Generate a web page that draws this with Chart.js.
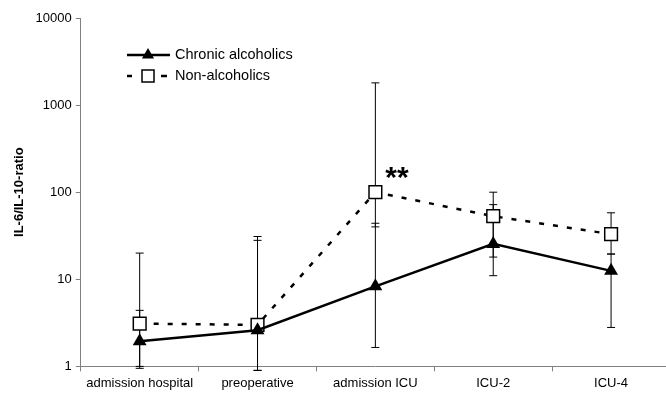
<!DOCTYPE html>
<html>
<head>
<meta charset="utf-8">
<script src="https://cdn.jsdelivr.net/npm/chart.js@4.4.0/dist/chart.umd.min.js"></script>
<style>
  html, body { margin: 0; padding: 0; background: #fff; overflow: hidden; }
  #wrap { position: relative; width: 670px; height: 393px; }
</style>
</head>
<body>
<div id="wrap"><canvas id="c"></canvas></div>
<script>
const categories = ['admission hospital', 'preoperative', 'admission ICU', 'ICU-2', 'ICU-4'];
const chronicLabel = 'Chronic alcoholics';
const chronic   = [1.95, 2.6, 8.3, 25.5, 12.5];
const chronicHi = [4.4, 28, 44, 72, 19.5];
const chronicLo = [0.95, 0.9, 1.65, 11, 2.8];
const nonAlcLabel = 'Non-alcoholics';
const nonAlc    = [3.1, 3.0, 100, 53, 33];
const nonAlcHi  = [20, 31, 1800, 100, 58];
const nonAlcLo  = [1.0, 0.9, 40, 18, 19.5];
const yTicks = [1, 10, 100, 1000, 10000];
const sigIndex = 2;
const sigText = '**';

const FONT = 'Liberation Sans, Arial, sans-serif';

const errorBars = {
  id: 'errorBars',
  beforeDatasetsDraw(chart) {
    const ctx = chart.ctx, y = chart.scales.y;
    const sets = [[chronicLo, chronicHi], [nonAlcLo, nonAlcHi]];
    ctx.save();
    ctx.strokeStyle = '#000';
    ctx.lineWidth = 1;
    chart.data.datasets.forEach((ds, di) => {
      const meta = chart.getDatasetMeta(di);
      meta.data.forEach((pt, i) => {
        const x = pt.x;
        const yl = y.getPixelForValue(sets[di][0][i]);
        const yh = y.getPixelForValue(sets[di][1][i]);
        ctx.beginPath();
        ctx.moveTo(x, yl); ctx.lineTo(x, yh);
        ctx.moveTo(x - 4, yl); ctx.lineTo(x + 4, yl);
        ctx.moveTo(x - 4, yh); ctx.lineTo(x + 4, yh);
        ctx.stroke();
      });
    });
    ctx.restore();
  }
};

function drawTri(ctx, x, y, r) {
  ctx.beginPath();
  ctx.moveTo(x, y - r);
  ctx.lineTo(x + r * 0.866, y + r * 0.5);
  ctx.lineTo(x - r * 0.866, y + r * 0.5);
  ctx.closePath();
  ctx.fillStyle = '#000';
  ctx.fill();
}
function drawSq(ctx, x, y, s) {
  ctx.fillStyle = '#fff';
  ctx.strokeStyle = '#000';
  ctx.lineWidth = 1.5;
  ctx.fillRect(x - s / 2, y - s / 2, s, s);
  ctx.strokeRect(x - s / 2, y - s / 2, s, s);
}

const legendAndSig = {
  id: 'legendAndSig',
  afterDatasetsDraw(chart) {
    const ctx = chart.ctx;
    ctx.save();
    // legend
    ctx.strokeStyle = '#000';
    ctx.lineWidth = 2.5;
    ctx.beginPath(); ctx.moveTo(127, 55); ctx.lineTo(170, 55); ctx.stroke();
    drawTri(ctx, 148, 55, 7);
    ctx.beginPath();
    ctx.moveTo(127, 76); ctx.lineTo(132, 76);
    ctx.moveTo(161, 76); ctx.lineTo(167, 76);
    ctx.stroke();
    drawSq(ctx, 148, 76, 12);
    ctx.fillStyle = '#000';
    ctx.font = '14.5px ' + FONT;
    ctx.textBaseline = 'middle';
    ctx.textAlign = 'left';
    ctx.fillText(chart.data.datasets[0].label, 175, 55);
    ctx.fillText(chart.data.datasets[1].label, 175, 76);
    // significance
    const xs = chart.scales.x, ys = chart.scales.y;
    ctx.font = 'bold 30px ' + FONT;
    ctx.fillText(sigText, xs.getPixelForValue(sigIndex) + 10, ys.getPixelForValue(nonAlc[sigIndex]) - 13);
    ctx.restore();
  }
};

new Chart(document.getElementById('c'), {
  type: 'line',
  data: {
    labels: categories,
    datasets: [
      {
        label: chronicLabel,
        data: chronic,
        borderColor: '#000',
        borderWidth: 2.5,
        pointStyle: 'triangle',
        pointRadius: 8,
        pointBackgroundColor: '#000',
        pointBorderColor: '#000',
        pointBorderWidth: 0,
        tension: 0,
        fill: false
      },
      {
        label: nonAlcLabel,
        data: nonAlc,
        borderColor: '#000',
        borderWidth: 2.5,
        borderDash: [5, 9],
        pointStyle: 'rect',
        pointRadius: 9,
        pointBackgroundColor: '#fff',
        pointBorderColor: '#000',
        pointBorderWidth: 1.5,
        tension: 0,
        fill: false
      }
    ]
  },
  options: {
    responsive: true,
    maintainAspectRatio: false,
    animation: false,
    layout: { autoPadding: false, padding: { left: 12, right: 0, top: 18, bottom: -2 } },
    plugins: { legend: { display: false }, tooltip: { enabled: false } },
    scales: {
      x: {
        type: 'category',
        offset: true,
        grid: { display: true, offset: true, drawOnChartArea: false, drawTicks: true, tickLength: 5, color: '#808080' },
        border: { color: '#808080', width: 1 },
        ticks: { color: '#000', font: { family: FONT, size: 13 }, padding: 4, maxRotation: 0, autoSkip: false }
      },
      y: {
        type: 'logarithmic',
        min: 1,
        max: 10000,
        afterBuildTicks(scale) { scale.ticks = yTicks.map(v => ({ value: v })); },
        grid: { display: true, drawOnChartArea: false, drawTicks: true, tickLength: 5, color: '#808080' },
        border: { color: '#808080', width: 1 },
        ticks: { color: '#000', font: { family: FONT, size: 13 }, padding: 4, callback: v => String(v) },
        title: { display: true, text: 'IL-6/IL-10-ratio', color: '#000', font: { family: FONT, size: 13, weight: 'bold' }, padding: { top: 0, bottom: 4 } }
      }
    }
  },
  plugins: [errorBars, legendAndSig]
});
</script>
</body>
</html>
